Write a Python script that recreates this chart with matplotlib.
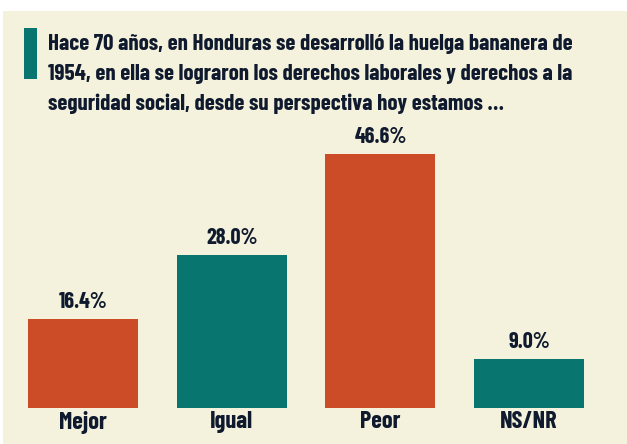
import matplotlib.pyplot as plt
import matplotlib.patches as mpatches

categorias = ['Mejor', 'Igual', 'Peor', 'NS/NR']
valores = [16.4, 28.0, 46.6, 9.0]
etiquetas = ['16.4%', '28.0%', '46.6%', '9.0%']
colores = ['#CD4C28', '#08756E', '#CD4C28', '#08756E']
titulo = ['Hace 70 años, en Honduras se desarrolló la huelga bananera de',
          '1954, en ella se lograron los derechos laborales y derechos a la',
          'seguridad social, desde su perspectiva hoy estamos …']

fuente = ['Barlow Condensed', 'Roboto Condensed', 'DejaVu Sans']
texto = '#101a2e'
fondo = '#F4F2DC'

W, H = 627, 444
fig = plt.figure(figsize=(W / 100, H / 100), dpi=100, facecolor='white')

# fondo beige (deja una franja blanca arriba)
fig.patches.append(mpatches.Rectangle((3 / W, 0), 1, (H - 11) / H, transform=fig.transFigure,
                                      facecolor=fondo, edgecolor='none', zorder=-2))
# barra verde del titulo
fig.patches.append(mpatches.Rectangle((24 / W, 1 - 79 / H), 13 / W, 51 / H, transform=fig.transFigure,
                                      facecolor='#08756E', edgecolor='none', zorder=-1))

for i, linea in enumerate(titulo):
    fig.text(48 / W, 1 - (50 + 30 * i) / H, linea, family=fuente, fontweight='bold',
             fontsize=16.5, color=texto, va='baseline', ha='left')

ax = fig.add_axes([8.7 / W, (H - 411) / H, 594.8 / W, 281 / H])
ax.set_facecolor('none')
x = range(len(categorias))
barras = ax.bar(x, valores, width=0.74, color=colores, edgecolor='none')
ax.set_xlim(-0.5, 3.5)
ax.set_ylim(-0.53, 51.0)

for b, et in zip(barras, etiquetas):
    ax.annotate(et, (b.get_x() + b.get_width() / 2, b.get_height()), xytext=(0, 5),
                textcoords='offset points', ha='center', va='bottom', family=fuente,
                fontweight='bold', fontsize=16, color=texto)

ax.set_xticks(list(x))
ax.set_xticklabels(categorias, family=fuente, fontweight='bold', fontsize=17.5, color=texto)
ax.tick_params(axis='x', length=0, pad=0)
ax.set_yticks([])
for s in ax.spines.values():
    s.set_visible(False)

fig.savefig('out.png', dpi=100, facecolor='white')
